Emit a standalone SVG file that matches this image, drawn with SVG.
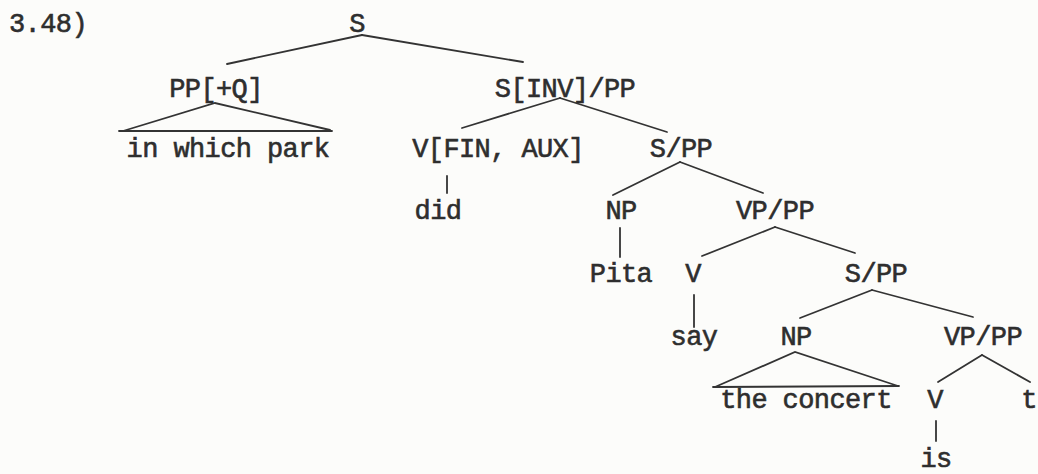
<svg xmlns="http://www.w3.org/2000/svg" width="1038" height="474" viewBox="0 0 1038 474">
<style>
.bg{fill:#fcfcfa}
text{font-family:"Liberation Mono","Courier New",monospace;font-size:27px;letter-spacing:-0.6px;fill:#2e2e2e;stroke:#2e2e2e;stroke-width:0.6px;text-anchor:middle}
.st{text-anchor:start}
#edges line, #edges polyline{stroke:#333;stroke-width:1.8;fill:none;stroke-linecap:round}
</style>
<rect class="bg" x="0" y="0" width="1038" height="474"/>
<g id="label"><text class="st" x="9" y="32">3.48)</text></g>
<g id="edges">
<line x1="362" y1="35" x2="227" y2="64"/>
<line x1="362" y1="35" x2="523" y2="62"/>
<polyline points="123,131 215,103 330,130"/>
<line x1="119" y1="131" x2="332" y2="131"/>
<line x1="560" y1="98" x2="462" y2="128"/>
<line x1="560" y1="98" x2="667" y2="132"/>
<line x1="447" y1="176" x2="447" y2="193"/>
<line x1="680" y1="162" x2="613" y2="195"/>
<line x1="680" y1="162" x2="763" y2="193"/>
<line x1="620" y1="228" x2="620" y2="257"/>
<line x1="775" y1="227" x2="702" y2="256"/>
<line x1="775" y1="227" x2="855" y2="253"/>
<line x1="694" y1="295" x2="694" y2="327"/>
<line x1="872" y1="290" x2="800" y2="318"/>
<line x1="872" y1="290" x2="973" y2="317"/>
<polyline points="715,387 795,352 898,386"/>
<line x1="713" y1="387" x2="899" y2="386"/>
<line x1="982" y1="355" x2="938" y2="382"/>
<line x1="982" y1="355" x2="1030" y2="382"/>
<line x1="936" y1="421" x2="936" y2="441"/>
</g>
<g id="n-S"><text x="357" y="32">S</text></g>
<g id="n-PPQ"><text x="216" y="97">PP[+Q]</text></g>
<g id="n-SINV"><text x="565" y="97">S[INV]/PP</text></g>
<g id="n-inwhichpark"><text x="228" y="157">in which park</text></g>
<g id="n-VFIN"><text x="498" y="157">V[FIN, AUX]</text></g>
<g id="n-SPP1"><text x="681" y="157">S/PP</text></g>
<g id="n-did"><text x="438" y="219">did</text></g>
<g id="n-NP1"><text x="621" y="219">NP</text></g>
<g id="n-VPPP1"><text x="775" y="219">VP/PP</text></g>
<g id="n-Pita"><text x="621" y="282">Pita</text></g>
<g id="n-V1"><text x="693" y="282">V</text></g>
<g id="n-SPP2"><text x="876" y="282">S/PP</text></g>
<g id="n-say"><text x="694" y="345">say</text></g>
<g id="n-NP2"><text x="796" y="345">NP</text></g>
<g id="n-VPPP2"><text x="983" y="345">VP/PP</text></g>
<g id="n-theconcert"><text x="806" y="408">the concert</text></g>
<g id="n-V2"><text x="935" y="408">V</text></g>
<g id="n-t"><text x="1029" y="408">t</text></g>
<g id="n-is"><text x="936" y="467">is</text></g>
</svg>
